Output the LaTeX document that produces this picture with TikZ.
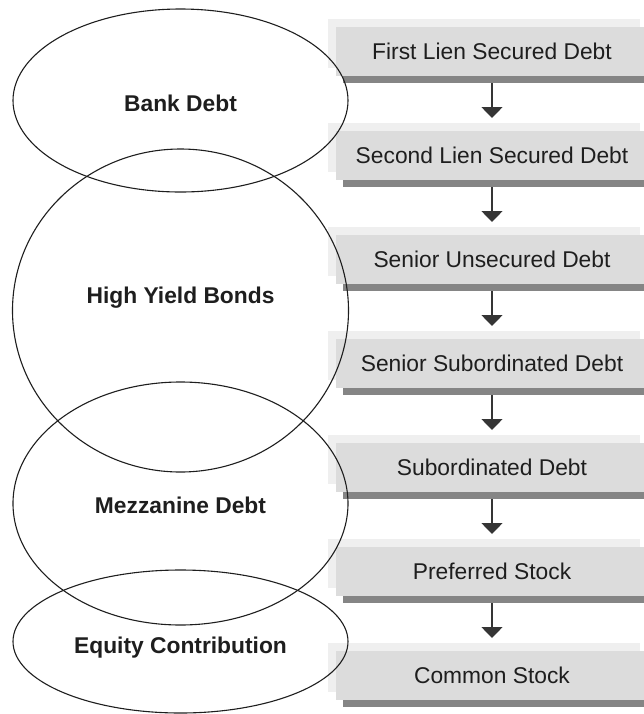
\documentclass[tikz,border=0pt]{standalone}
\usepackage{fontspec}
\setmainfont{Liberation Sans}
\usetikzlibrary{arrows.meta,shadows,shapes.geometric}
\definecolor{boxgray}{HTML}{DCDCDC}
\definecolor{glowgray}{HTML}{EFEFEF}
\definecolor{bargray}{HTML}{858585}
\definecolor{inkc}{HTML}{1E1E1E}
\tikzset{
  layer/.style={rectangle, fill=boxgray, minimum width=156pt, minimum height=24.5pt,
    inner sep=0pt, outer sep=0pt, text=inkc,
    font=\fontsize{11.4}{13.7}\selectfont,
    general shadow={fill=glowgray, shadow xshift=-4pt, shadow yshift=4pt},
    general shadow={fill=bargray, shadow xshift=3.5pt, shadow yshift=-3.5pt}},
  oval/.style={ellipse, draw=inkc, line width=0.55pt, inner sep=0pt, outer sep=0pt},
  ovallabel/.style={font=\fontsize{11.4}{13.7}\selectfont\bfseries, text=inkc},
  flow/.style={draw=inkc!90, line width=0.75pt, shorten <=3.5pt, shorten >=6.5pt,
    -{Triangle[width=10.5pt,length=5.5pt]}}
}
\begin{document}
\begin{tikzpicture}[x=0.5pt,y=-0.5pt]
\useasboundingbox (0,0) rectangle (644,714);
\clip (0,0) rectangle (644,714);
% layers
\node[layer] (b1) at (492,51.5) {First Lien Secured Debt};
\node[layer] (b2) at (492,155.5) {Second Lien Secured Debt};
\node[layer] (b3) at (492,259.5) {Senior Unsecured Debt};
\node[layer] (b4) at (492,363.5) {Senior Subordinated Debt};
\node[layer] (b5) at (492,467.5) {Subordinated Debt};
\node[layer] (b6) at (492,571.5) {Preferred Stock};
\node[layer] (b7) at (492,675.5) {Common Stock};
\foreach \a/\b in {b1/b2,b2/b3,b3/b4,b4/b5,b5/b6,b6/b7}
  \draw[flow] (\a.south) -- (\b.north);
% ovals
\node[oval, minimum width=167.5pt, minimum height=91.5pt] (bank) at (180.5,100.5) {};
\node[oval, minimum width=168pt, minimum height=161.5pt] (hy) at (180.5,310.5) {};
\node[oval, minimum width=167.5pt, minimum height=121.5pt] (mezz) at (180.5,503.5) {};
\node[oval, minimum width=167.5pt, minimum height=71.5pt] (eq) at (180.5,641.5) {};
\node[ovallabel] (bankl) at (180.5,103) {Bank Debt};
\node[ovallabel] (hyl) at (180.5,298) {High Yield Bonds};
\node[ovallabel] (mezzl) at (180.5,505) {Mezzanine Debt};
\node[ovallabel] (eql) at (180.5,648) {Equity Contribution};
\end{tikzpicture}
\end{document}
